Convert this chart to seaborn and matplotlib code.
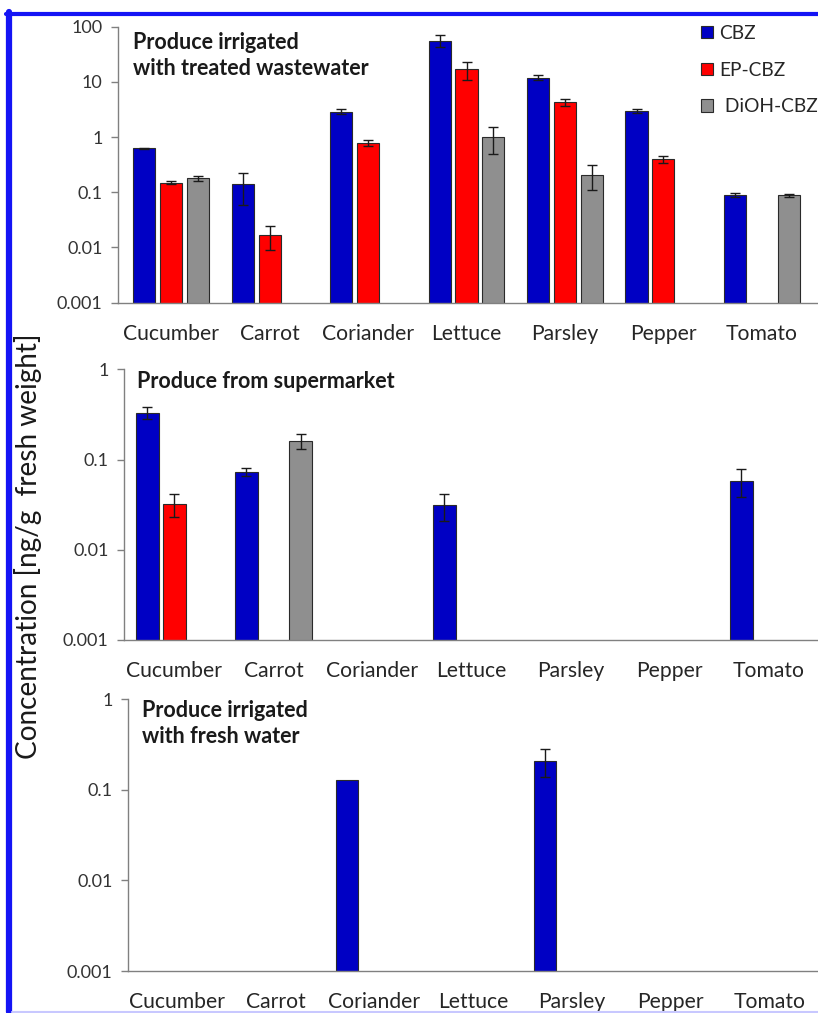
import numpy as np
import pandas as pd
import matplotlib
matplotlib.use("Agg")
import matplotlib.pyplot as plt
import seaborn as sns
from matplotlib.lines import Line2D
from matplotlib.ticker import FixedLocator, FuncFormatter, NullLocator

sns.set_theme(style="white")
plt.rcParams["font.family"] = ["Lato", "DejaVu Sans"]

nan = np.nan
categories = ["Cucumber", "Carrot", "Coriander", "Lettuce", "Parsley", "Pepper", "Tomato"]
compounds = ["CBZ", "EP-CBZ", "DiOH-CBZ"]
legend_labels = ["CBZ", "EP-CBZ", " DiOH-CBZ"]

# Produce irrigated with treated wastewater
ww_cbz = [0.63, 0.14, 2.9, 56, 12, 3.0, 0.090]
ww_cbz_err = [0.01, 0.08, 0.3, 14, 1.2, 0.25, 0.007]
ww_ep = [0.15, 0.017, 0.78, 17, 4.3, 0.40, nan]
ww_ep_err = [0.007, 0.008, 0.1, 6, 0.6, 0.06, nan]
ww_dioh = [0.18, nan, nan, 1.0, 0.21, nan, 0.088]
ww_dioh_err = [0.02, nan, nan, 0.5, 0.1, nan, 0.006]

# Produce from supermarket
sm_cbz = [0.33, 0.073, nan, 0.031, nan, nan, 0.058]
sm_cbz_err = [0.05, 0.007, nan, 0.01, nan, nan, 0.02]
sm_ep = [0.032, nan, nan, nan, nan, nan, nan]
sm_ep_err = [0.009, nan, nan, nan, nan, nan, nan]
sm_dioh = [nan, 0.16, nan, nan, nan, nan, nan]
sm_dioh_err = [nan, 0.03, nan, nan, nan, nan, nan]

# Produce irrigated with fresh water
fw_cbz = [nan, nan, 0.13, nan, 0.21, nan, nan]
fw_cbz_err = [nan, nan, nan, nan, 0.07, nan, nan]
fw_ep = [nan] * 7
fw_ep_err = [nan] * 7
fw_dioh = [nan] * 7
fw_dioh_err = [nan] * 7

palette = {"CBZ": "#0000c4", "EP-CBZ": "#ff0000", "DiOH-CBZ": "#8f8f8f"}

W, H = 818, 1013


def long_frame(series, errors):
    rows = []
    for comp, vals, errs in zip(compounds, series, errors):
        for cat, v, e in zip(categories, vals, errs):
            rows.append({"produce": cat, "compound": comp, "conc": v, "err": e})
    return pd.DataFrame(rows)


# title position: left edge and baseline of the last line (pixels)
panels = [
    dict(df=long_frame([ww_cbz, ww_ep, ww_dioh], [ww_cbz_err, ww_ep_err, ww_dioh_err]),
         rect=(118, 26.7, 818, 302.7), xlim=(-0.54, 6.57), yticks=[0.001, 0.01, 0.1, 1, 10, 100],
         title="Produce irrigated\nwith treated wastewater", title_xy=(133, 75)),
    dict(df=long_frame([sm_cbz, sm_ep, sm_dioh], [sm_cbz_err, sm_ep_err, sm_dioh_err]),
         rect=(124, 369.3, 818, 640), xlim=(-0.51, 6.50), yticks=[0.001, 0.01, 0.1, 1],
         title="Produce from supermarket", title_xy=(137, 388)),
    dict(df=long_frame([fw_cbz, fw_ep, fw_dioh], [fw_cbz_err, fw_ep_err, fw_dioh_err]),
         rect=(127.7, 699.3, 818, 971), xlim=(-0.497, 6.49), yticks=[0.001, 0.01, 0.1, 1],
         title="Produce irrigated\nwith fresh water", title_xy=(142, 743)),
]

fig = plt.figure(figsize=(W / 100, H / 100), dpi=100)
fig.patch.set_facecolor("white")

axes = []
for i, p in enumerate(panels):
    x0, y0, x1, y1 = p["rect"]
    ax = fig.add_axes([x0 / W, 1 - y1 / H, (x1 - x0) / W, (y1 - y0) / H])
    axes.append(ax)
    df = p["df"]
    sns.barplot(data=df, x="produce", y="conc", hue="compound", order=categories,
                hue_order=compounds, palette=palette, saturation=1, width=0.82, gap=0.18,
                errorbar=None, edgecolor="#2a2a2a", linewidth=0.8,
                legend=(i == 0), ax=ax)
    ax.set_yscale("log")
    ax.set_ylim(p["yticks"][0], p["yticks"][-1])
    ax.set_xlim(*p["xlim"])

    # error bars placed on the drawn bars
    step = 0.82 / 3
    for patch in ax.patches:
        h = patch.get_height()
        if not np.isfinite(h) or h <= 0:
            continue
        xc = patch.get_x() + patch.get_width() / 2
        ci = int(round(xc))
        hi = int(round((xc - ci) / step)) + 1
        sel = df[(df.produce == categories[ci]) & (df.compound == compounds[hi])]
        if sel.empty:
            continue
        e = sel.err.iloc[0]
        if np.isfinite(e):
            ax.errorbar(xc, h, yerr=e, fmt="none", ecolor="#1a1a1a", elinewidth=1.0,
                        capsize=3.5, capthick=1.0, zorder=5)

    ax.yaxis.set_major_locator(FixedLocator(p["yticks"]))
    ax.yaxis.set_major_formatter(FuncFormatter(lambda v, _: f"{v:g}"))
    ax.yaxis.set_minor_locator(NullLocator())
    for s in ["top", "right"]:
        ax.spines[s].set_visible(False)
    for s in ["left", "bottom"]:
        ax.spines[s].set_color("#808080")
        ax.spines[s].set_linewidth(1.0)
    ax.tick_params(axis="y", which="major", left=True, direction="out", length=5, width=1,
                   color="#808080", pad=6, labelsize=13, labelcolor="#333333")
    ax.tick_params(axis="x", length=0, pad=15, labelsize=15.2, labelcolor="#262626")
    ax.set_xlabel("")
    ax.set_ylabel("")

    tx, ty = p["title_xy"]
    fig.text(tx / W, 1 - ty / H, p["title"], fontsize=15.5, fontweight="bold",
             color="#1a1a1a", ha="left", va="baseline", linespacing=1.3)

# legend in the top panel
handles, _ = axes[0].get_legend_handles_labels()
axes[0].legend(handles, legend_labels, loc="upper left",
               bbox_to_anchor=(701 / W, 1 - 25 / H), bbox_transform=fig.transFigure,
               frameon=False, fontsize=13.8, handlelength=0.62, handleheight=0.62,
               handletextpad=0.35, labelspacing=1.02, borderpad=0, borderaxespad=0,
               labelcolor="#262626")

fig.text(28 / W, 1 - 546 / H, "Concentration [ng/g  fresh weight]", rotation=90,
         fontsize=20.2, color="#1a1a1a", ha="center", va="center")

# blue frame around the figure
fig.add_artist(Line2D([6 / W, 1], [1 - 14 / H, 1 - 14 / H], color="#1414f5", lw=3,
                      transform=fig.transFigure))
fig.add_artist(Line2D([9 / W, 9 / W], [1 - 12 / H, 1 - 1012 / H], color="#1414f5", lw=4.5,
                      transform=fig.transFigure))
fig.add_artist(Line2D([12 / W, 1], [1 - 1011.5 / H, 1 - 1011.5 / H], color="#c8c8ff", lw=1.5,
                      transform=fig.transFigure))

fig.savefig("out.png", dpi=100)
